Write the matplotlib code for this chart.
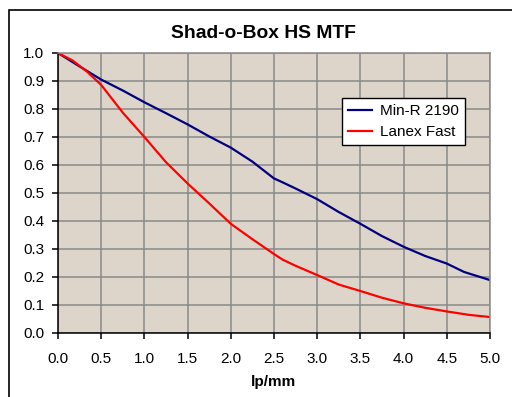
import matplotlib
matplotlib.use('Agg')
import matplotlib.pyplot as plt
from matplotlib.patches import Rectangle

plt.rcParams['font.family'] = ['Liberation Sans', 'DejaVu Sans']

# lp/mm values and MTF readings
min_r_x = [0.0, 0.25, 0.5, 0.75, 1.0, 1.25, 1.5, 1.75, 2.0, 2.25, 2.5, 2.6,
           2.75, 3.0, 3.25, 3.5, 3.75, 4.0, 4.25, 4.5, 4.7, 5.0]
min_r_y = [1.000, 0.952, 0.905, 0.866, 0.824, 0.785, 0.745, 0.702, 0.662,
           0.612, 0.552, 0.538, 0.516, 0.478, 0.432, 0.390, 0.346, 0.308,
           0.275, 0.248, 0.218, 0.189]

lanex_x = [0.0, 0.17, 0.33, 0.5, 0.75, 1.0, 1.25, 1.5, 1.75, 2.0, 2.25, 2.5,
           2.6, 2.75, 3.0, 3.25, 3.5, 3.75, 4.0, 4.25, 4.5, 4.75, 5.0]
lanex_y = [1.000, 0.973, 0.935, 0.886, 0.787, 0.700, 0.610, 0.534, 0.463,
           0.390, 0.335, 0.282, 0.262, 0.240, 0.207, 0.173, 0.150, 0.126,
           0.106, 0.090, 0.077, 0.065, 0.057]

x_ticks = [0.0, 0.5, 1.0, 1.5, 2.0, 2.5, 3.0, 3.5, 4.0, 4.5, 5.0]
y_ticks = [0.0, 0.1, 0.2, 0.3, 0.4, 0.5, 0.6, 0.7, 0.8, 0.9, 1.0]

fig = plt.figure(figsize=(5.12, 3.97), dpi=100)
ax = fig.add_axes([58 / 512, 1 - 333 / 397, 432 / 512, 280 / 397])

# outer chart frame (runs off the right and bottom edges)
fig.patches.append(Rectangle((9 / 512, -0.1), 1.2, 1 - 10 / 397 + 0.1,
                             transform=fig.transFigure, fill=False,
                             edgecolor='black', linewidth=1.2))

ax.set_facecolor('#ddd5c9')
ax.plot(min_r_x, min_r_y, color='#000080', linewidth=1.6, label='Min-R 2190')
ax.plot(lanex_x, lanex_y, color='#ff0000', linewidth=1.6, label='Lanex Fast')

ax.set_xlim(0, 5)
ax.set_ylim(0, 1)
ax.set_xticks(x_ticks)
ax.set_yticks(y_ticks)
ax.set_xticklabels([f'{v:.1f}' for v in x_ticks])
ax.set_yticklabels([f'{v:.1f}' for v in y_ticks])
ax.grid(True, color='#8a8a8a', linewidth=1.1)
ax.set_axisbelow(True)

for side in ['top', 'right']:
    ax.spines[side].set_color('#8a8a8a')
    ax.spines[side].set_linewidth(1.1)
for side in ['left', 'bottom']:
    ax.spines[side].set_color('black')
    ax.spines[side].set_linewidth(1.1)

ax.tick_params(axis='x', length=4, width=1.1, pad=10, labelsize=11)
ax.tick_params(axis='y', length=4.3, width=1.1, pad=5.5, labelsize=11)

fig.text(0.514, 1 - 33.5 / 397, 'Shad-o-Box HS MTF', ha='center', va='center',
         fontsize=13.9, fontweight='bold')
fig.text(274 / 512, 1 - 382 / 397, 'lp/mm', ha='center', va='center',
         fontsize=11, fontweight='bold')

leg = ax.legend(loc='upper left', bbox_to_anchor=(0.657, 0.839),
                borderaxespad=0, fancybox=False, framealpha=1,
                edgecolor='black', fontsize=11, handlelength=1.6,
                handletextpad=0.5, labelspacing=0.45, borderpad=0.4)
leg.get_frame().set_linewidth(1.0)

plt.savefig('out.png', dpi=100)
